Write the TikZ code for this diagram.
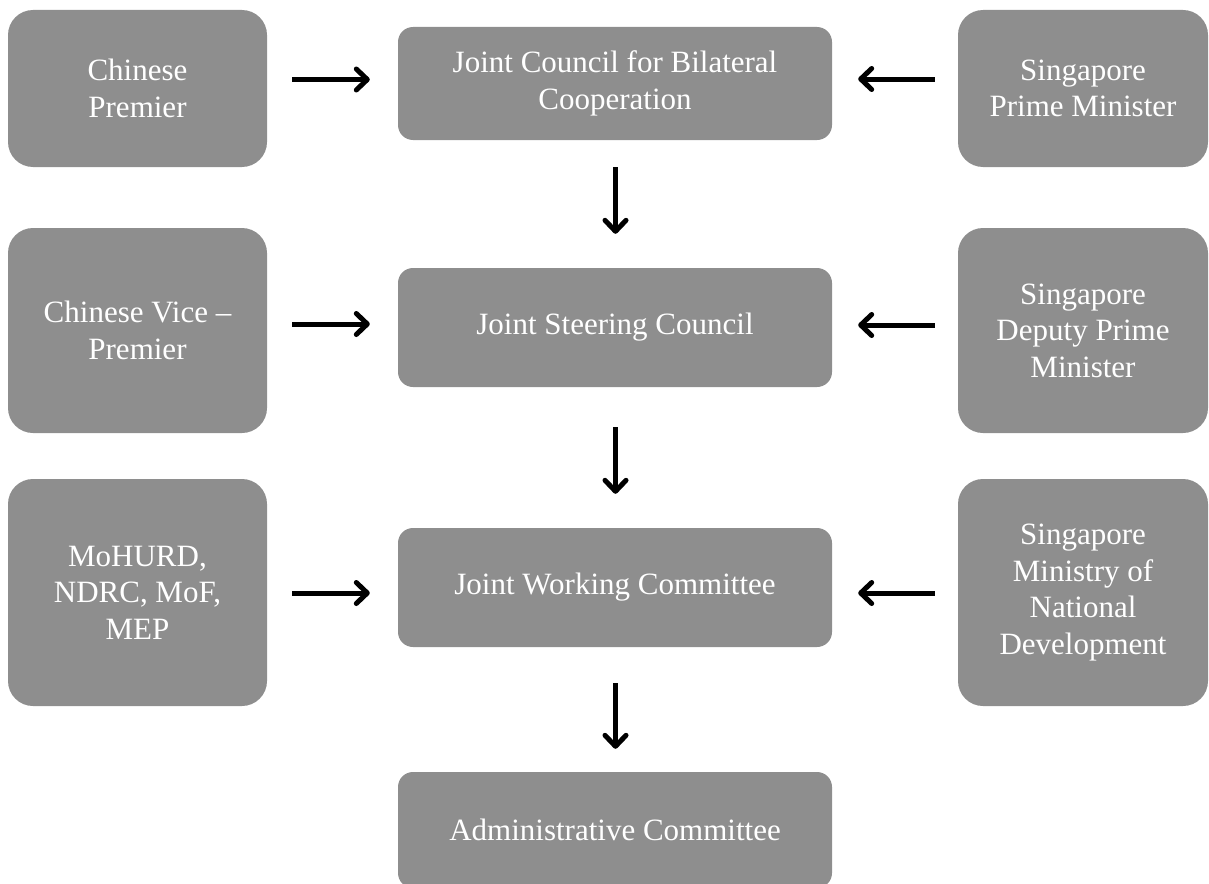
\documentclass[tikz,border=0pt]{standalone}
\usepackage{fontspec}
\setmainfont{Liberation Serif}
\usetikzlibrary{arrows.meta}
\definecolor{boxgray}{HTML}{8E8E8E}
\tikzset{
  box/.style={rectangle, fill=boxgray, draw=none, text=white, align=center, inner sep=0pt,
    font=\fontsize{31}{36.5}\selectfont},
  sidebox/.style={box, rounded corners=25pt},
  midbox/.style={box, rounded corners=15pt, minimum width=434pt},
  arr/.style={line width=5pt, -{Straight Barb[length=11pt,width=21pt,line width=5pt,round]}}
}
\begin{document}
\begin{tikzpicture}[x=1pt,y=-1pt]
\useasboundingbox (0,0) rectangle (1209,883);
\clip (0,0) rectangle (1209,883);
% left column
\node[sidebox, minimum width=259pt, minimum height=157pt] (L1) at (137.5,88.5) {Chinese\\Premier};
\node[sidebox, minimum width=259pt, minimum height=205pt] (L2) at (137.5,330.5) {Chinese Vice --\\Premier};
\node[sidebox, minimum width=259pt, minimum height=227pt] (L3) at (137.5,592.5) {MoHURD,\\NDRC, MoF,\\MEP};
% center column
\node[midbox, minimum height=113pt] (C1) at (615,83.5) {Joint Council for Bilateral\\Cooperation};
\node[midbox, minimum height=119pt] (C2) at (615,327.5) {Joint Steering Council};
\node[midbox, minimum height=119pt] (C3) at (615,587.5) {Joint Working Committee};
\node[midbox, minimum height=116pt] (C4) at (615,830) {Administrative Committee};
% right column
\node[sidebox, minimum width=250pt, minimum height=157pt] (R1) at (1083,88.5) {Singapore\\Prime Minister};
\node[sidebox, minimum width=250pt, minimum height=205pt] (R2) at (1083,330.5) {Singapore\\Deputy Prime\\Minister};
\node[sidebox, minimum width=250pt, minimum height=227pt] (R3) at (1083,592.5) {Singapore\\Ministry of\\National\\Development};
% horizontal arrows from left
\draw[arr, shorten <=25pt, shorten >=28pt] ([yshift=4pt]L1.east |- C1.center) -- ([yshift=4pt]C1.west);
\draw[arr, shorten <=25pt, shorten >=28pt] ([yshift=3.5pt]L2.east |- C2.center) -- ([yshift=3.5pt]C2.west);
\draw[arr, shorten <=25pt, shorten >=28pt] ([yshift=-5.5pt]L3.east |- C3.center) -- ([yshift=-5.5pt]C3.west);
% horizontal arrows from right
\draw[arr, shorten <=23pt, shorten >=26pt] ([yshift=4.5pt]R1.west |- C1.center) -- ([yshift=4.5pt]C1.east);
\draw[arr, shorten <=23pt, shorten >=26pt] ([yshift=2.5pt]R2.west |- C2.center) -- ([yshift=2.5pt]C2.east);
\draw[arr, shorten <=23pt, shorten >=26pt] ([yshift=-5.5pt]R3.west |- C3.center) -- ([yshift=-5.5pt]C3.east);
% vertical arrows
\draw[arr, shorten <=27pt, shorten >=34pt] ([xshift=0.5pt]C1.south) -- ([xshift=0.5pt]C2.north);
\draw[arr, shorten <=40pt, shorten >=34pt] ([xshift=0.5pt]C2.south) -- ([xshift=0.5pt]C3.north);
\draw[arr, shorten <=36pt, shorten >=23pt] ([xshift=0.5pt]C3.south) -- ([xshift=0.5pt]C4.north);
\end{tikzpicture}
\end{document}
